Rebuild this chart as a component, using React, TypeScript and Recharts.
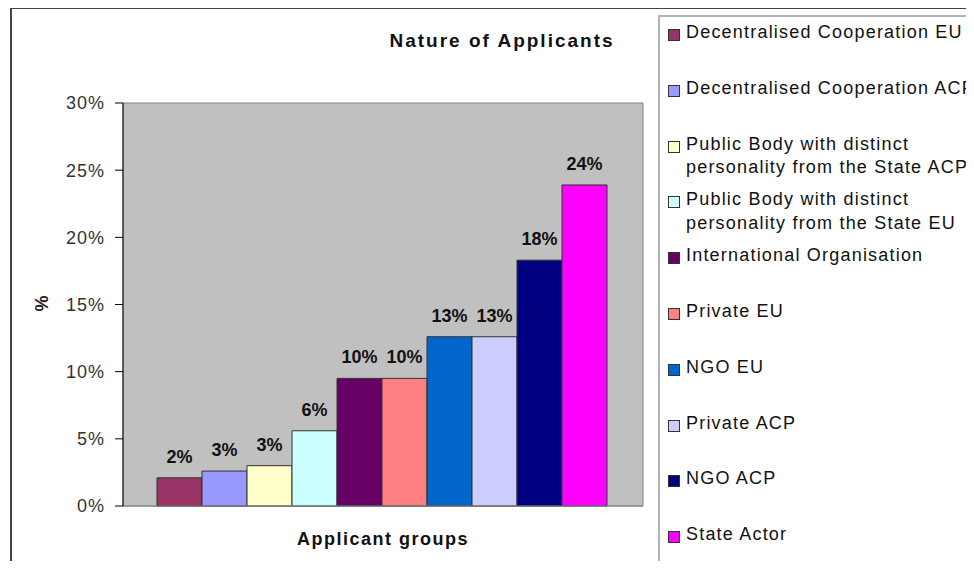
import React from "react";
import {
  Bar,
  BarChart,
  LabelList,
  ReferenceArea,
  XAxis,
  YAxis,
} from "recharts";

const groups = [
  "Decentralised Cooperation EU",
  "Decentralised Cooperation ACP",
  "Public Body with distinct personality from the State ACP",
  "Public Body with distinct personality from the State EU",
  "International Organisation",
  "Private EU",
  "NGO EU",
  "Private ACP",
  "NGO ACP",
  "State Actor",
];

const legendLines = [
  ["Decentralised Cooperation EU"],
  ["Decentralised Cooperation ACP"],
  ["Public Body with distinct", "personality from the State ACP"],
  ["Public Body with distinct", "personality from the State EU"],
  ["International Organisation"],
  ["Private EU"],
  ["NGO EU"],
  ["Private ACP"],
  ["NGO ACP"],
  ["State Actor"],
];

const shares = [2.1, 2.6, 3.0, 5.6, 9.5, 9.5, 12.6, 12.6, 18.3, 23.9];

const colors = [
  "#993366",
  "#9999FF",
  "#FFFFCC",
  "#CCFFFF",
  "#660066",
  "#FF8080",
  "#0066CC",
  "#CCCCFF",
  "#000080",
  "#FF00FF",
];

const yTicks = [0, 5, 10, 15, 20, 25, 30];

const row: Record<string, number | string> = { name: "Applicant groups" };
groups.forEach((g, i) => {
  row["s" + i] = shares[i];
});
const data = [row];

const font = "'Liberation Sans', Arial, sans-serif";

export default function App() {
  return (
    <div
      style={{
        position: "relative",
        width: 974,
        height: 569,
        margin: -8,
        overflow: "hidden",
        background: "#fff",
        fontFamily: font,
      }}
    >
      {/* outer chart frame */}
      <div
        style={{
          position: "absolute",
          left: 10,
          top: 7,
          width: 1000,
          height: 600,
          borderTop: "2px solid #444",
          borderLeft: "2px solid #444",
        }}
      />
      <div
        style={{
          position: "absolute",
          left: 0,
          top: 30,
          width: 1004,
          textAlign: "center",
          fontWeight: "bold",
          fontSize: 19,
          letterSpacing: 2,
          color: "#111",
        }}
      >
        Nature of Applicants
      </div>
      <div
        style={{
          position: "absolute",
          left: 34,
          top: 293,
          fontSize: 18,
          fontWeight: "bold",
          color: "#222",
          transform: "rotate(-90deg)",
        }}
      >
        %
      </div>
      <div style={{ position: "absolute", left: 0, top: 0 }}>
        <BarChart
          width={974}
          height={569}
          data={data}
          margin={{ top: 103, right: 331, left: 10, bottom: 3 }}
          barCategoryGap={34}
          barGap={0}
        >
          <ReferenceArea
            y1={0}
            y2={30}
            fill="#C0C0C0"
            fillOpacity={1}
            stroke="#808080"
            strokeWidth={1}
          />
          <XAxis
            dataKey="name"
            tick={false}
            tickLine={false}
            height={60}
            axisLine={{ stroke: "#808080" }}
            label={{
              value: "Applicant groups",
              position: "insideBottom",
              offset: 21,
              fill: "#111",
              fontSize: 18,
              fontWeight: "bold",
              letterSpacing: 1.5,
            }}
          />
          <YAxis
            width={113}
            domain={[0, 30]}
            ticks={yTicks}
            tickFormatter={(v) => `${v}%`}
            tick={{ fill: "#333", fontSize: 18, letterSpacing: 1 }}
            tickSize={8}
            tickMargin={10}
            tickLine={{ stroke: "#000" }}
            axisLine={{ stroke: "#000" }}
          />
          {groups.map((g, i) => (
            <Bar
              key={g}
              dataKey={"s" + i}
              name={g}
              fill={colors[i]}
              stroke="#333"
              strokeWidth={1}
              isAnimationActive={false}
            >
              <LabelList
                dataKey={"s" + i}
                position="top"
                offset={15}
                formatter={(v: any) => `${Math.round(Number(v))}%`}
                style={{
                  fill: "#111",
                  fontSize: 18,
                  fontWeight: "bold",
                }}
              />
            </Bar>
          ))}
        </BarChart>
      </div>
      {/* legend */}
      <div
        style={{
          position: "absolute",
          left: 658,
          top: 15,
          width: 400,
          height: 600,
          borderTop: "2px solid #b4b4b4",
          borderLeft: "2px solid #b4b4b4",
          background: "#fff",
        }}
      >
        {groups.map((g, i) => (
          <div
            key={g}
            style={{
              position: "absolute",
              left: 8,
              top: 4 + i * 55.8,
              display: "flex",
              alignItems: "flex-start",
            }}
          >
            <div
              style={{
                width: 10,
                height: 10,
                marginTop: 8,
                background: colors[i],
                border: "1px solid #333",
              }}
            />
            <div
              style={{
                marginLeft: 6,
                fontSize: 18,
                lineHeight: "23.5px",
                letterSpacing: 1.2,
                color: "#111",
                whiteSpace: "nowrap",
              }}
            >
              {legendLines[i].map((l) => (
                <div key={l}>{l}</div>
              ))}
            </div>
          </div>
        ))}
      </div>
    </div>
  );
}
